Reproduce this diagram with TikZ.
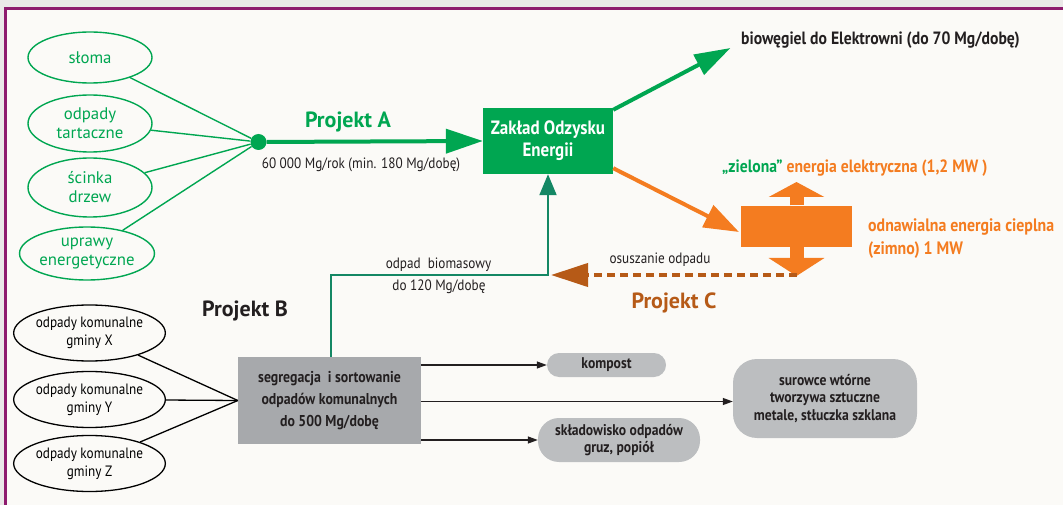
\documentclass[tikz,border=0pt]{standalone}
\usepackage{fontspec}
\setmainfont{PT Sans}
\newfontfamily\cond[FakeStretch=0.88]{PT Sans}
\usetikzlibrary{shapes.geometric,arrows.meta,calc}
\definecolor{cgreen}{RGB}{0,166,81}
\definecolor{cteal}{RGB}{20,135,100}
\definecolor{corange}{RGB}{244,124,32}
\definecolor{cbrown}{RGB}{182,90,23}
\definecolor{cpurple}{RGB}{142,27,110}
\definecolor{cdark}{RGB}{35,31,32}
\definecolor{cgrey}{RGB}{167,169,172}
\definecolor{clgrey}{RGB}{188,190,192}
\definecolor{cbg}{RGB}{251,250,247}
\definecolor{cstrip}{RGB}{234,232,232}
\newcommand\cnd[2]{\cond\fontsize{#1}{#2}\selectfont}
\newcommand\cndb[2]{\cond\bfseries\fontsize{#1}{#2}\selectfont}
\newcommand\reg[2]{\fontsize{#1}{#2}\selectfont}
\newcommand\regb[2]{\bfseries\fontsize{#1}{#2}\selectfont}
\begin{document}
\begin{tikzpicture}[x=1pt,y=-1pt,
  gell/.style={ellipse,draw=cgreen,line width=1.4pt,minimum width=124pt,minimum height=54pt,inner sep=0pt,text=cgreen,align=center,font=\reg{16.8}{19}},
  bell/.style={ellipse,draw=black,line width=1.3pt,minimum width=125pt,minimum height=56pt,inner sep=0pt,text=black,align=center,font=\cnd{15}{18}},
  gline/.style={draw=cgreen,line width=1.4pt},
  bline/.style={draw=black,line width=1.3pt},
  outbox/.style={fill=clgrey,text=cdark,align=center,inner sep=0pt,font=\cndb{15.5}{17.5}},
  outarrow/.style={draw=cdark,line width=1.3pt,-{Triangle[length=10pt,width=7pt]}},
  lbl/.style={text=cdark,font=\cnd{15}{18}},
  proj/.style={font=\regb{22}{24}}]
\useasboundingbox (0,0) rectangle (1063,505);
\fill[cbg] (0,0) rectangle (1063,505);
\fill[cstrip] (0,0) rectangle (1063,7.5);
\fill[cstrip] (0,0) rectangle (4,505);
\draw[cpurple,line width=3pt] (5.5,505) -- (5.5,9) -- (1063,9);

% green sources
\node[gell,minimum height=51pt] (e1) at (90,57.5) {słoma};
\node[gell,minimum height=57pt] (e2) at (90,123.5) {odpady\\tartaczne};
\node[gell,minimum height=59pt] (e3) at (90,187.5) {ścinka\\drzew};
\node[gell,minimum height=53pt] (e4) at (87,253.5) {uprawy\\energetyczne};
\node[circle,fill=cgreen,minimum size=16pt,inner sep=0pt] (hub) at (258.5,142) {};
\draw[gline] (e1) -- (hub);
\draw[gline] (e2) -- (hub);
\draw[gline] (e3) -- (hub);
\draw[gline] (e4) -- (hub);

% main plant
\node[fill=cgreen,minimum width=130pt,minimum height=66pt,inner sep=0pt,text=white,align=center,font=\cndb{19.3}{22}] (zoe) at (548,141) {Zakład Odzysku\\Energii};
\draw[cgreen,line width=4pt,-{Triangle[length=37pt,width=24pt]}] (hub) -- (zoe.west);
\node[proj,text=cgreen] (pa) at (348,122) {Projekt A};
\node[lbl] (pal) at (361,165) {60 000 Mg/rok (min. 180 Mg/dobę)};

% biochar
\coordinate (bwt) at (730.5,48);
\draw[cgreen,line width=4pt,-{Triangle[length=36pt,width=22pt]}] ($(zoe.north east)+(0,2)$) -- (bwt);
\node[anchor=west,inner sep=0pt,text=cdark,font=\cndb{17.8}{20}] (bwl) at (741,40) {biowęgiel do Elektrowni (do 70 Mg/dobę)};

% energy
\coordinate (ort) at (739,232);
\draw[corange,line width=4pt,-{Triangle[length=35pt,width=24pt]}] ($(zoe.south east)+(0,-6)$) -- (ort);
\node[fill=corange,minimum width=111pt,minimum height=41pt,inner sep=0pt] (blk) at (796.5,226.2) {};
\coordinate (upt) at (796.5,182);
\coordinate (dnt) at (796.5,276);
\draw[corange,line width=14pt,-{Triangle[length=15pt,width=55pt]}] (blk.north) -- (upt);
\draw[corange,line width=14pt,-{Triangle[length=18pt,width=55pt]}] (blk.south) -- (dnt);
\node[anchor=west,inner sep=0pt,font=\cndb{17.8}{20}] (zl) at (722,168) {\textcolor{cgreen}{„zielona”} \textcolor{corange}{energia elektryczna (1,2 MW )}};
\node[anchor=west,inner sep=0pt,align=left,text=corange,font=\cndb{18}{23}] (od) at (868,238.5) {odnawialna energia cieplna\\(zimno) 1 MW};

% project C
\coordinate (ct) at (551,275);
\draw[cbrown,line width=4pt,dash pattern=on 8pt off 5pt,-{Triangle[length=37pt,width=23pt]}] (796.5,275) -- (ct);
\node[lbl] (os) at (660,260) {osuszanie odpadu};
\node[proj,text=cbrown] (pc) at (674,303) {Projekt C};

% municipal waste
\node[bell] (k1) at (89.5,333) {odpady komunalne\\gminy X};
\node[bell] (k2) at (89.5,399.5) {odpady komunalne\\gminy Y};
\node[bell] (k3) at (89.5,463.5) {odpady komunalne\\gminy Z};
\node[fill=cgrey,minimum width=183pt,minimum height=87pt,inner sep=0pt,text=cdark,align=center,font=\cndb{15.7}{22}] (seg) at (329.5,400.5) {segregacja\ \ i sortowanie\\odpadów komunalnych\\do 500 Mg/dobę};
\draw[bline] (k1) -- (seg.west);
\draw[bline] (k2) -- (seg.west);
\draw[bline] (k3) -- (seg.west);
\node[proj,text=cdark] (pb) at (245,311) {Projekt B};

% biomass waste link
\coordinate (bj) at (331,275);
\coordinate (bk) at (548,275);
\draw[cteal,line width=2pt,-{Triangle[length=21pt,width=17pt]}] (seg.north -| bj) -- (bj) -- (bk) -- (bk |- zoe.south);
\node[lbl] (ob1) at (438.5,265) {odpad\ \ biomasowy};
\node[lbl] (ob2) at (439,287) {do 120 Mg/dobę};

% outputs
\node[outbox,minimum width=119pt,minimum height=24pt,rounded corners=12pt] (kom) at (606.5,365) {kompost};
\node[outbox,minimum width=184pt,minimum height=79pt,rounded corners=24pt] (sur) at (825,398.5) {surowce wtórne\\tworzywa sztuczne\\metale, stłuczka szklana};
\node[outbox,minimum width=162pt,minimum height=44pt,rounded corners=21pt] (skl) at (619,440) {składowisko odpadów\\gruz, popiół};
\coordinate (sura) at ($(sur.west)+(0,3)$);
\draw[outarrow] (seg.east |- kom.west) -- (kom.west);
\draw[outarrow] (seg.east |- sura) -- (sura);
\draw[outarrow] (seg.east |- skl.west) -- (skl.west);
\end{tikzpicture}
\end{document}
